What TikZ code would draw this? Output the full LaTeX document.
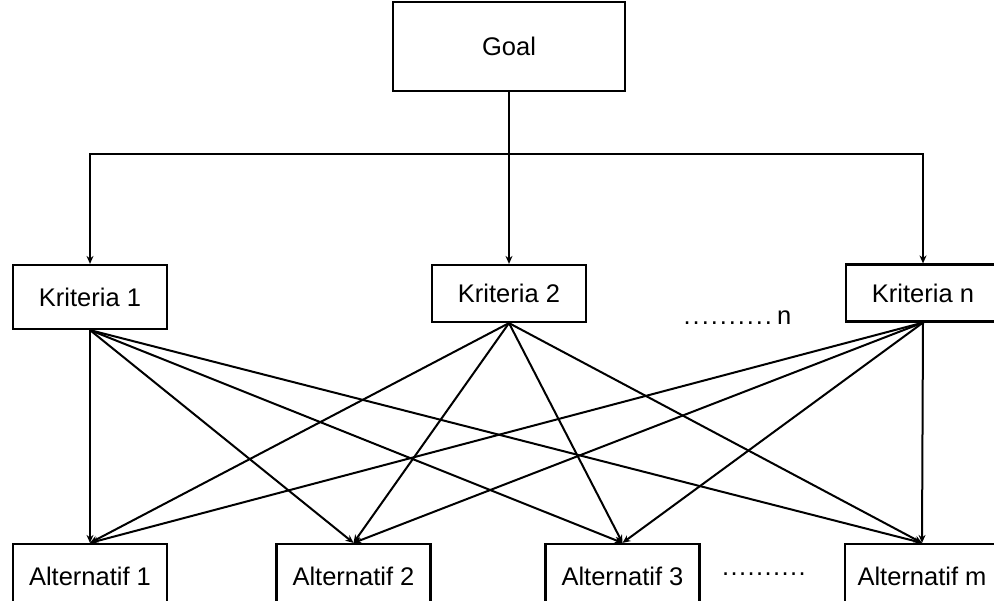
\documentclass[tikz,border=0pt]{standalone}
\usepackage{fontspec}
\setmainfont{Liberation Sans}
\usetikzlibrary{arrows.meta}
\newcommand{\dotrow}[2]{\leaders\hbox to #2{\hss.\hss}\hskip #1\null}
\begin{document}
\begin{tikzpicture}[x=1pt, y=-1pt, >={Stealth[length=8pt,width=7pt]},
      every node/.style={font=\fontsize{25.5}{30}\selectfont},
      box/.style={draw,line width=2.2pt,inner sep=0,minimum width=154pt,minimum height=57pt},
      link/.style={->,line width=2pt} ]
      \useasboundingbox (0,0) rectangle (994,601);

      % nodes
      \node[box,minimum width=232pt,minimum height=89pt] (goal) at (509,46.5) {Goal};
      \node[box,minimum height=64pt] (k1) at (90,297) {Kriteria 1};
      \node[box] (k2) at (509,293.5) {Kriteria 2};
      \node[box] (kn) at (923,293) {Kriteria n};
      \node (kdots) at (737,318) {\dotrow{90pt}{9pt}\,n};

      \node[box,minimum height=64pt] (a1) at (90,576) {Alternatif 1};
      \node[box,minimum height=64pt] (a2) at (353.5,576) {Alternatif 2};
      \node[box,minimum height=64pt] (a3) at (622.5,576) {Alternatif 3};
      \node[box,minimum height=64pt] (am) at (922,576) {Alternatif m};
      \node (adots) at (768,574) {\dotrow{93pt}{8.5pt}};

      % goal to criteria
      \coordinate (split) at (509,154);
      \draw[line width=2.2pt] (goal.south) -- (split);
      \draw[link] (split) -| (k1.north);
      \draw[link] (split) -- (k2.north);
      \draw[link] (split) -| (kn.north);

      % criteria to alternatives
      \foreach \k in {k1,k2,kn} {
        \foreach \a in {a1,a2,a3,am} {
          \draw[link] (\k.south) -- (\a.north);
        }
      }
    \end{tikzpicture}
\end{document}
